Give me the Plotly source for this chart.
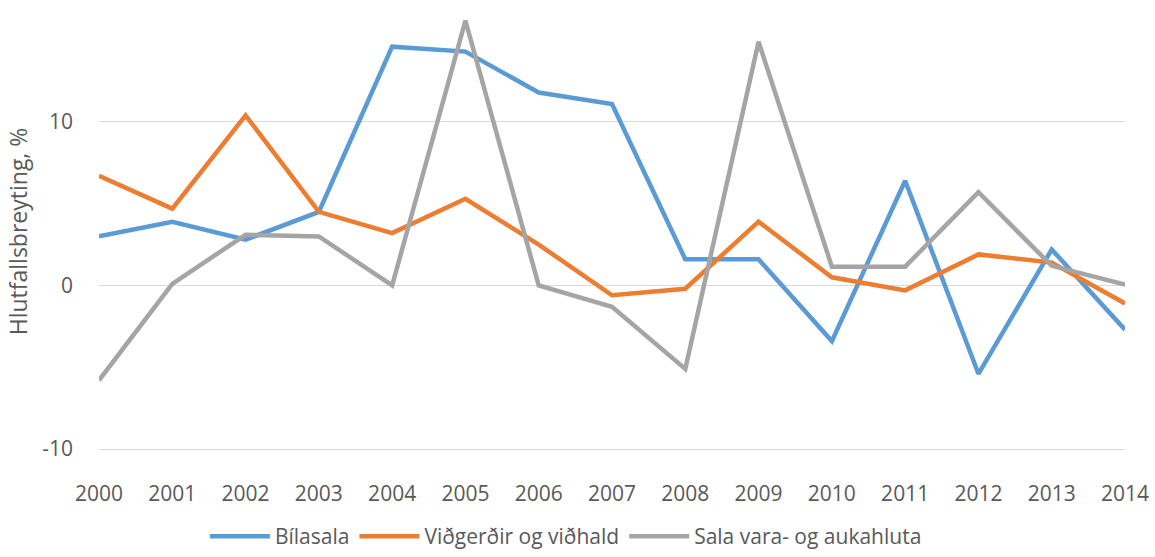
import plotly.graph_objects as go

years = list(range(2000, 2015))
bilasala = [3.0, 3.9, 2.8, 4.5, 14.6, 14.3, 11.8, 11.1, 1.6, 1.6, -3.4, 6.4, -5.4, 2.2, -2.7]
vidgerdir = [6.7, 4.7, 10.4, 4.5, 3.2, 5.3, 2.5, -0.6, -0.2, 3.9, 0.5, -0.3, 1.9, 1.4, -1.1]
sala_vara = [-5.8, 0.1, 3.1, 3.0, 0.0, 16.2, 0.0, -1.3, -5.1, 14.9, 1.15, 1.15, 5.7, 1.2, 0.05]
names = ["Bílasala", "Viðgerðir og viðhald", "Sala vara- og aukahluta"]
colors = ["#5B9BD5", "#ED7D31", "#A5A5A5"]
ytick_vals = [-10, 0, 10]
ytick_text = ["-10", "0", "10"]

fig = go.Figure()
for name, vals, c in zip(names, [bilasala, vidgerdir, sala_vara], colors):
    fig.add_trace(go.Scatter(x=years, y=vals, mode="lines", name=name,
                             line=dict(color=c, width=4.5)))

font = dict(family="Open Sans, Liberation Sans, sans-serif", color="#595959")
fig.update_layout(
    width=1155, height=557,
    margin=dict(l=99, r=30, t=14, b=108, autoexpand=False),
    plot_bgcolor="white", paper_bgcolor="white",
    font=dict(**font, size=20),
    showlegend=True,
    legend=dict(orientation="h", x=0.49, xref="container", xanchor="center",
                y=0.0, yref="container", yanchor="bottom",
                font=dict(size=21), traceorder="normal", itemwidth=60,
                borderwidth=0, tracegroupgap=0),
    xaxis=dict(range=[2000, 2014], tickmode="array", tickvals=years,
               ticktext=[str(y) for y in years], showgrid=False, zeroline=False,
               showline=True, linecolor="#D9D9D9", linewidth=1, automargin=False,
               ticklabelstandoff=26, tickfont=dict(size=21)),
    yaxis=dict(range=[-10, 16.6], tickmode="array", tickvals=ytick_vals, ticktext=ytick_text,
               showgrid=True, gridcolor="#D9D9D9", gridwidth=1, zeroline=True,
               zerolinecolor="#D9D9D9", zerolinewidth=1, ticklabelstandoff=25,
               tickfont=dict(size=21), automargin=False,
               title=dict(text="Hlutfallsbreyting, %", font=dict(size=23), standoff=8)),
)
fig.write_html("out.html", config={"displayModeBar": False},
               post_script="document.body.style.margin='0';")
